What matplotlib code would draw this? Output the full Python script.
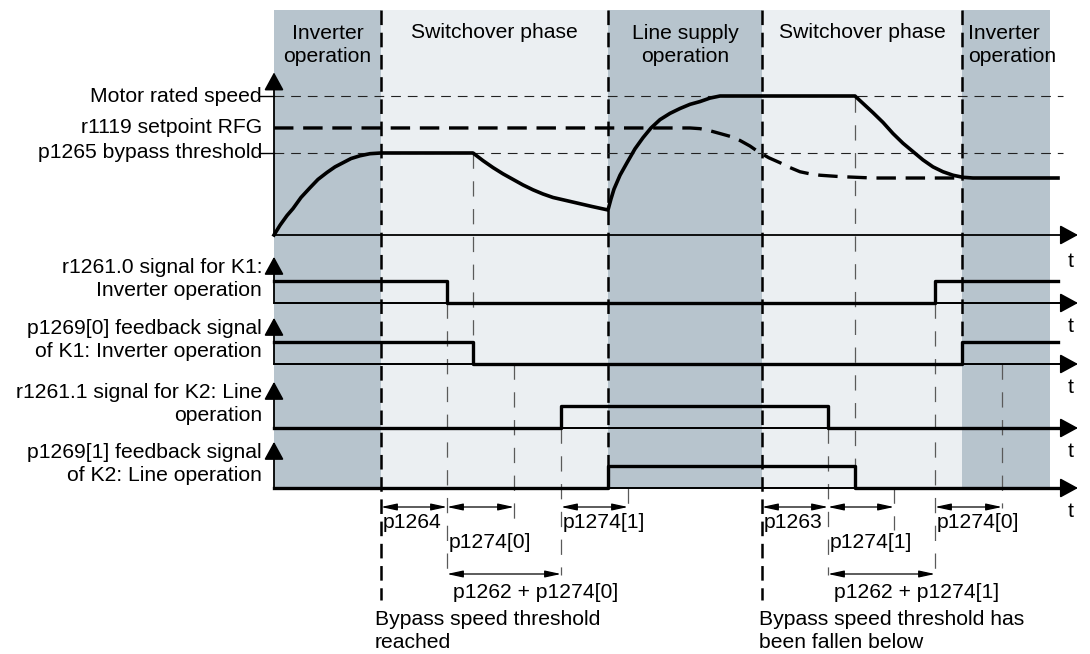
import matplotlib
matplotlib.use('agg')
import matplotlib.pyplot as plt

plt.rcParams['font.family'] = ['Liberation Sans', 'DejaVu Sans']
plt.rcParams['lines.scale_dashes'] = False

W, H = 1090, 654
FS = 15.2

# operating phases along the time axis
phase_edges = [274, 381, 608, 762, 962, 1050]
phase_names = ['Inverter\noperation', 'Switchover phase', 'Line supply\noperation',
               'Switchover phase', 'Inverter\noperation']
phase_dark = [True, False, True, False, True]

# speed levels (1.0 = motor rated speed)
speed_levels = [1.0, 0.77, 0.59]
speed_names = ['Motor rated speed', 'r1119 setpoint RFG', 'p1265 bypass threshold']

# motor speed
speed_t = [274, 280, 287, 293, 301, 310, 318, 327, 335, 343, 351, 360, 370, 381,
           473, 483, 493, 503, 513, 523, 533, 543, 553, 565, 577, 592, 608,
           611, 614, 620, 627, 635, 643, 651, 660, 670, 680, 690, 700, 710, 720,
           855, 864, 873, 883, 893, 903, 913, 923, 933, 943, 953, 963, 973, 1058]
speed_v = [0.0, 0.07, 0.14, 0.19, 0.27, 0.34, 0.40, 0.45, 0.49, 0.52, 0.55, 0.57, 0.585, 0.59,
           0.59, 0.535, 0.485, 0.44, 0.40, 0.36, 0.325, 0.295, 0.27, 0.25, 0.23, 0.205, 0.18,
           0.26, 0.33, 0.43, 0.52, 0.62, 0.70, 0.77, 0.83, 0.875, 0.91, 0.94, 0.96, 0.985, 1.0,
           1.0, 0.94, 0.88, 0.81, 0.73, 0.66, 0.60, 0.54, 0.49, 0.455, 0.43, 0.415, 0.41, 0.41]

# ramp-function generator setpoint
setpoint_t = [274, 690, 700, 710, 720, 730, 740, 750, 758, 769, 780, 790, 800, 810,
              820, 840, 873, 962]
setpoint_v = [0.77, 0.77, 0.765, 0.75, 0.73, 0.71, 0.68, 0.64, 0.60, 0.555, 0.52, 0.485,
              0.455, 0.44, 0.43, 0.42, 0.41, 0.41]

# contactor signals
signal_names = ['r1261.0 signal for K1:\nInverter operation',
                'p1269[0] feedback signal\nof K1: Inverter operation',
                'r1261.1 signal for K2: Line\noperation',
                'p1269[1] feedback signal\nof K2: Line operation']
signal_start = [1, 1, 0, 0]
signal_edges = [[447, 935], [473, 962], [561, 828], [608, 855]]

# timing parameters
dim_spans = [(381, 447), (447, 514), (561, 628), (447, 561),
             (762, 828), (828, 894), (935, 1002), (828, 935)]
dim_names = ['p1264', 'p1274[0]', 'p1274[1]', 'p1262 + p1274[0]',
             'p1263', 'p1274[1]', 'p1274[0]', 'p1262 + p1274[1]']

t_end = 1058
x_axis0 = 274
x_tip = 1078

dark_col = '#b7c4cd'
light_col = '#ebeff2'
grey_dash = '#5a5a5a'

fig = plt.figure(figsize=(W / 100, H / 100), dpi=100, facecolor='white')
ax = fig.add_axes([0, 0, 1, 1])
ax.set_xlim(0, W)
ax.set_ylim(H, 0)
ax.axis('off')


def axis_arrow(a, start, tip, lw=1.3):
    a.annotate('', xy=tip, xytext=start,
               arrowprops=dict(arrowstyle='-|>,head_length=0.55,head_width=0.3',
                               mutation_scale=20, lw=lw, color='black',
                               shrinkA=0, shrinkB=0), annotation_clip=False)


# phase bands and their titles
for i, name in enumerate(phase_names):
    x0, x1 = phase_edges[i], phase_edges[i + 1]
    ax.axvspan(x0, x1, ymin=1 - 488 / H, ymax=1 - 10 / H,
               color=dark_col if phase_dark[i] else light_col, lw=0, zorder=0)
    ty = 45 if '\n' in name else 32
    if i == len(phase_names) - 1:
        ax.text(x0 + 6, ty, name, ha='left', va='center', fontsize=FS, linespacing=1.25)
    else:
        ax.text((x0 + x1) / 2, ty, name, ha='center', va='center', fontsize=FS,
                linespacing=1.25)

# phase boundaries
boundary_bottom = [600, 466, 600, 342]
for x, yb in zip(phase_edges[1:-1], boundary_bottom):
    ax.plot([x, x], [10, yb], color='black', lw=1.8, ls=(0, (10.5, 5.5)), zorder=2)

# speed panel
sp = fig.add_axes([0, (H - 235) / H, 1, 139 / H])
sp.set_xlim(0, W)
sp.set_ylim(0, 1)
sp.axis('off')
sp.patch.set_visible(False)

for lvl, name in zip(speed_levels, speed_names):
    sp.text(262, lvl, name, ha='right', va='center', fontsize=FS)
sp.plot([x_axis0, 1063], [speed_levels[0]] * 2, color='#222222', lw=0.8,
        ls=(0, (7, 5)), clip_on=False, zorder=2)
sp.plot([x_axis0, 1063], [speed_levels[2]] * 2, color='#222222', lw=0.8,
        ls=(0, (7, 5)), clip_on=False, zorder=2)
for lvl in (speed_levels[0], speed_levels[2]):
    sp.plot([259, x_axis0], [lvl, lvl], color='black', lw=1.0, clip_on=False)

sp.plot(setpoint_t, setpoint_v, color='black', lw=2.4, ls=(0, (14, 7)),
        clip_on=False, zorder=3)
sp.plot(speed_t, speed_v, color='black', lw=2.6, clip_on=False, zorder=4,
        solid_joinstyle='round')
axis_arrow(sp, (x_axis0, 0), (x_axis0, 1.17))
axis_arrow(sp, (x_axis0, 0), (x_tip, 0))
sp.text(1071, -0.19, 't', ha='center', va='center', fontsize=FS)

# contactor signal panels
rows = [303, 364, 428, 488]
for k, low in enumerate(rows):
    sa = fig.add_axes([0, (H - low) / H, 1, 22 / H])
    sa.set_xlim(0, W)
    sa.set_ylim(0, 1)
    sa.axis('off')
    sa.patch.set_visible(False)
    xs = [x_axis0] + signal_edges[k] + [t_end]
    lv = signal_start[k]
    ys = []
    for _ in range(len(xs) - 1):
        ys.append(lv)
        lv = 1 - lv
    ys.append(ys[-1])
    sa.plot([x_axis0, x_tip - 10], [0, 0], color='black', lw=1.2, clip_on=False, zorder=3)
    sa.step(xs, ys, where='post', color='black', lw=2.4, clip_on=False, zorder=4)
    axis_arrow(sa, (x_axis0, 0), (x_axis0, 2.1))
    axis_arrow(sa, (x_axis0, 0), (x_tip, 0))
    sa.text(1071, -1.05, 't', ha='center', va='center', fontsize=FS)
    sa.text(262, 1.1, signal_names[k], ha='right', va='center', fontsize=FS,
            linespacing=1.25)

# extension lines for the timing parameters
ext_lines = [(447, 303, 575), (473, 153, 342), (514, 364, 530), (561, 428, 575),
             (628, 488, 508), (828, 428, 575), (855, 97, 466), (894, 488, 530),
             (935, 303, 575), (1002, 364, 508)]
for x, y0, y1 in ext_lines:
    ax.plot([x, x], [y0, y1], color=grey_dash, lw=0.9, ls=(0, (11, 9)), zorder=2)

label_y = [522, 543, 522, 593, 522, 543, 522, 593]
arrow_y = [507, 507, 507, 574, 507, 507, 507, 574]
for (x0, x1), name, ly, ay in zip(dim_spans, dim_names, label_y, arrow_y):
    ax.annotate('', xy=(x1, ay), xytext=(x0, ay),
                arrowprops=dict(arrowstyle='<|-|>,head_length=0.6,head_width=0.13',
                                mutation_scale=16, lw=0.9, color='black',
                                shrinkA=0, shrinkB=0))
    ax.text(x0 + (6 if ly == 593 else 2), ly, name, ha='left', va='center', fontsize=FS)

ax.text(375, 631, 'Bypass speed threshold\nreached', ha='left', va='center',
        fontsize=FS, linespacing=1.25)
ax.text(759, 631, 'Bypass speed threshold has\nbeen fallen below', ha='left',
        va='center', fontsize=FS, linespacing=1.25)

fig.savefig('out.png', dpi=100)
